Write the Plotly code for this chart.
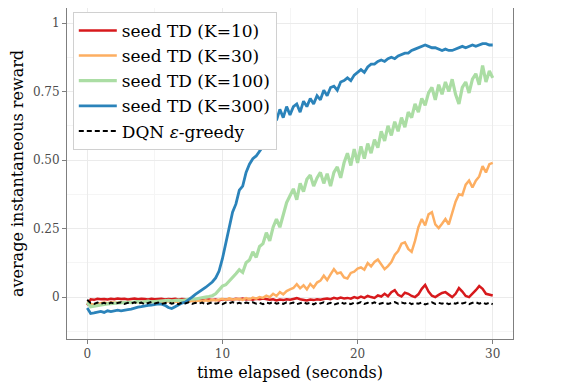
import numpy as np
import plotly.graph_objects as go

# -- time axis, one reading every 0.25 s
t = np.arange(121) * 0.25

# -- seed TD, K=10
k10 = [-0.03, -0.008, -0.01, -0.006, -0.008,
       -0.007, -0.009, -0.006, -0.008, -0.005, -0.007, -0.006, -0.009,
       -0.007, -0.005, -0.008, -0.006, -0.007, -0.009, -0.006, -0.008,
       -0.007, -0.006, -0.009, -0.007, -0.008, -0.006, -0.009, -0.007,
       -0.008, -0.01, -0.007, -0.009, -0.011, -0.008, -0.01, -0.009,
       -0.011, -0.009, -0.012, -0.008, -0.01, -0.007, -0.009, -0.006,
       -0.008, -0.005, -0.009, -0.007, -0.01, -0.006, -0.008, -0.005,
       -0.007, -0.01, -0.008, -0.012, -0.009, -0.011, -0.008, -0.01,
       -0.007, -0.004, -0.008, -0.01, -0.012, -0.009, -0.011, -0.008,
       -0.01, -0.007, -0.005, -0.008, -0.003, -0.006, -0.002, -0.005,
       -0.003, -0.006, 0.0, -0.004, 0.002, -0.003, 0.004, 0.0,
       -0.003, 0.006, 0.002, 0.012, 0.003, 0.018, 0.025, 0.008,
       0.002, 0.016, 0.012, 0.004, 0.0, 0.01, 0.03, 0.044,
       0.02, 0.005, 0.0, 0.008, 0.015, 0.018, 0.01, 0.0,
       0.012, 0.033, 0.02, 0.004, 0.0, 0.012, 0.025, 0.04,
       0.03, 0.012, 0.008, 0.006]

# -- seed TD, K=30
k30 = [-0.015, -0.025, -0.028, -0.024, -0.022,
       -0.02, -0.022, -0.019, -0.021, -0.02, -0.018, -0.02, -0.019,
       -0.018, -0.02, -0.017, -0.019, -0.018, -0.016, -0.018, -0.017,
       -0.016, -0.018, -0.017, -0.015, -0.017, -0.016, -0.018, -0.016,
       -0.015, -0.017, -0.014, -0.016, -0.013, -0.015, -0.012, -0.014,
       -0.01, -0.012, -0.008, -0.006, -0.01, -0.005, -0.009, -0.007,
       -0.006, -0.01, -0.004, -0.008, -0.002, -0.006, 0.0, -0.003,
       0.005, 0.0, 0.012, 0.004, 0.018, 0.01, 0.022, 0.028,
       0.033, 0.047, 0.032, 0.043, 0.028, 0.048, 0.035, 0.053,
       0.06, 0.078, 0.062, 0.083, 0.102, 0.086, 0.09, 0.072,
       0.068, 0.088, 0.093, 0.104, 0.108, 0.1, 0.124, 0.112,
       0.128, 0.137, 0.118, 0.102, 0.113, 0.128, 0.154, 0.168,
       0.195, 0.2, 0.176, 0.165, 0.205, 0.255, 0.285, 0.262,
       0.302, 0.31, 0.265, 0.252, 0.268, 0.285, 0.265, 0.305,
       0.348, 0.375, 0.372, 0.41, 0.425, 0.4, 0.425, 0.44,
       0.478, 0.455, 0.485, 0.49]

# -- seed TD, K=100
k100 = [-0.02, -0.035, -0.033, -0.03, -0.028,
        -0.027, -0.025, -0.024, -0.022, -0.023, -0.02, -0.021, -0.019,
        -0.02, -0.018, -0.017, -0.019, -0.016, -0.015, -0.017, -0.016,
        -0.015, -0.013, -0.014, -0.012, -0.014, -0.012, -0.011, -0.013,
        -0.01, -0.008, -0.006, -0.007, -0.004, -0.003, 0.0, 0.002,
        0.005, 0.012, 0.025, 0.04, 0.045, 0.058, 0.068, 0.085,
        0.1, 0.09, 0.125, 0.135, 0.165, 0.145, 0.185, 0.195,
        0.235, 0.205, 0.255, 0.285, 0.255, 0.305, 0.345, 0.37,
        0.395, 0.355, 0.415, 0.385, 0.43, 0.445, 0.405, 0.435,
        0.455, 0.415, 0.45, 0.405, 0.455, 0.475, 0.435, 0.49,
        0.525, 0.48, 0.54, 0.49, 0.55, 0.505, 0.56, 0.525,
        0.575, 0.545, 0.605, 0.57, 0.625, 0.59, 0.64, 0.605,
        0.655, 0.62, 0.675, 0.655, 0.705, 0.675, 0.725, 0.7,
        0.745, 0.765, 0.72, 0.775, 0.74, 0.785, 0.75, 0.795,
        0.74, 0.705, 0.765, 0.785, 0.745, 0.795, 0.815, 0.775,
        0.845, 0.785, 0.825, 0.8]

# -- seed TD, K=300
k300 = [-0.04, -0.06, -0.058, -0.055, -0.052,
        -0.056, -0.05, -0.053, -0.05, -0.048, -0.05, -0.047, -0.046,
        -0.044, -0.04, -0.037, -0.035, -0.032, -0.03, -0.029, -0.027,
        -0.025, -0.026, -0.03, -0.038, -0.042, -0.035, -0.028, -0.022,
        -0.018, -0.01, 0.0, 0.01, 0.018, 0.025, 0.035, 0.045,
        0.055, 0.07, 0.095, 0.14, 0.2, 0.25, 0.31, 0.34,
        0.39, 0.405, 0.455, 0.485, 0.505, 0.515, 0.535, 0.55,
        0.6, 0.64, 0.665, 0.645, 0.685, 0.655, 0.695, 0.665,
        0.695, 0.705, 0.675, 0.715, 0.695, 0.725, 0.705, 0.735,
        0.72, 0.755, 0.735, 0.765, 0.77, 0.755, 0.785, 0.79,
        0.8, 0.79, 0.81, 0.82, 0.83, 0.82, 0.84, 0.85,
        0.85, 0.86, 0.865, 0.86, 0.87, 0.875, 0.87, 0.88,
        0.885, 0.89, 0.89, 0.9, 0.905, 0.91, 0.915, 0.92,
        0.915, 0.91, 0.91, 0.905, 0.9, 0.905, 0.9, 0.9,
        0.905, 0.91, 0.915, 0.91, 0.915, 0.92, 0.915, 0.92,
        0.925, 0.925, 0.92, 0.92]

# -- DQN epsilon-greedy baseline
dqn = [-0.01, -0.022, -0.025, -0.02, -0.024,
       -0.021, -0.026, -0.02, -0.024, -0.022, -0.019, -0.025, -0.021,
       -0.023, -0.019, -0.024, -0.02, -0.026, -0.021, -0.018, -0.023,
       -0.02, -0.025, -0.022, -0.019, -0.024, -0.021, -0.026, -0.02,
       -0.023, -0.019, -0.025, -0.021, -0.024, -0.02, -0.027, -0.022,
       -0.019, -0.024, -0.021, -0.026, -0.02, -0.023, -0.018, -0.024,
       -0.021, -0.025, -0.02, -0.023, -0.019, -0.024, -0.021, -0.026,
       -0.02, -0.023, -0.018, -0.024, -0.021, -0.025, -0.019, -0.023,
       -0.02, -0.026, -0.022, -0.019, -0.024, -0.021, -0.027, -0.02,
       -0.023, -0.019, -0.025, -0.021, -0.028, -0.022, -0.019, -0.024,
       -0.021, -0.026, -0.02, -0.023, -0.018, -0.025, -0.021, -0.024,
       -0.019, -0.026, -0.022, -0.02, -0.025, -0.021, -0.018, -0.024,
       -0.02, -0.023, -0.019, -0.026, -0.021, -0.024, -0.02, -0.027,
       -0.022, -0.019, -0.025, -0.021, -0.024, -0.02, -0.026, -0.021,
       -0.024, -0.019, -0.023, -0.02, -0.026, -0.021, -0.019, -0.024,
       -0.02, -0.025, -0.021, -0.026]

names = ['seed TD (K=10)', 'seed TD (K=30)', 'seed TD (K=100)', 'seed TD (K=300)']
colors = ['#d7191c', '#fdae61', '#abdda4', '#2b83ba']
widths = [2.5, 2.5, 3.2, 2.8]
series = [k10, k30, k100, k300]

y_ticks = [0, 0.25, 0.5, 0.75, 1]
y_ticktext = ['0', '0.25', '0.50', '0.75', '1']
x_ticks = [0, 10, 20, 30]

FONT = 'DejaVu Serif'

fig = go.Figure()
for i, (name, col, w, ys) in enumerate(zip(names, colors, widths, series)):
    fig.add_trace(go.Scatter(x=t, y=ys, mode='lines', name=name,
                             legendgroup=str(i),
                             line=dict(color=col, width=w)))
fig.add_trace(go.Scatter(x=t, y=dqn, mode='lines', name='DQN <i>ε</i>-greedy',
                         legendgroup='4',
                         line=dict(color='black', width=2, dash='5px,3px')))

axis_common = dict(showline=True, linecolor='#7f7f7f', linewidth=1, mirror=True,
                   ticks='outside', ticklen=4, tickcolor='#7f7f7f',
                   gridcolor='#ebebeb', gridwidth=1, zeroline=False,
                   automargin=False,
                   tickfont=dict(family=FONT, size=12, color='#4d4d4d'),
                   title_font=dict(family=FONT, size=16, color='black'))

# -- page body adds an 8px offset, so the figure is sized to fit what is left
fig.update_layout(
    width=559, height=380,
    margin=dict(l=59, r=54, t=0, b=49),
    plot_bgcolor='white', paper_bgcolor='white',
    font=dict(family=FONT),
    legend=dict(x=0.013, y=0.988, xanchor='left', yanchor='top',
                bgcolor='white', bordercolor='#d0d0d0', borderwidth=1,
                font=dict(family=FONT, size=17, color='black'),
                itemwidth=38, tracegroupgap=0),
    xaxis=dict(range=[-1.5, 31.5], tickvals=x_ticks,
               title=dict(text='time elapsed (seconds)', standoff=6),
               minor=dict(dtick=5, tick0=0, showgrid=True, gridcolor='#f5f5f5', ticks=''),
               **axis_common),
    yaxis=dict(range=[-0.153, 1.055], tickvals=y_ticks, ticktext=y_ticktext,
               title=dict(text='average instantaneous reward', standoff=8),
               minor=dict(dtick=0.125, tick0=0, showgrid=True, gridcolor='#f5f5f5', ticks=''),
               **axis_common),
)

fig.write_html("out.html")
